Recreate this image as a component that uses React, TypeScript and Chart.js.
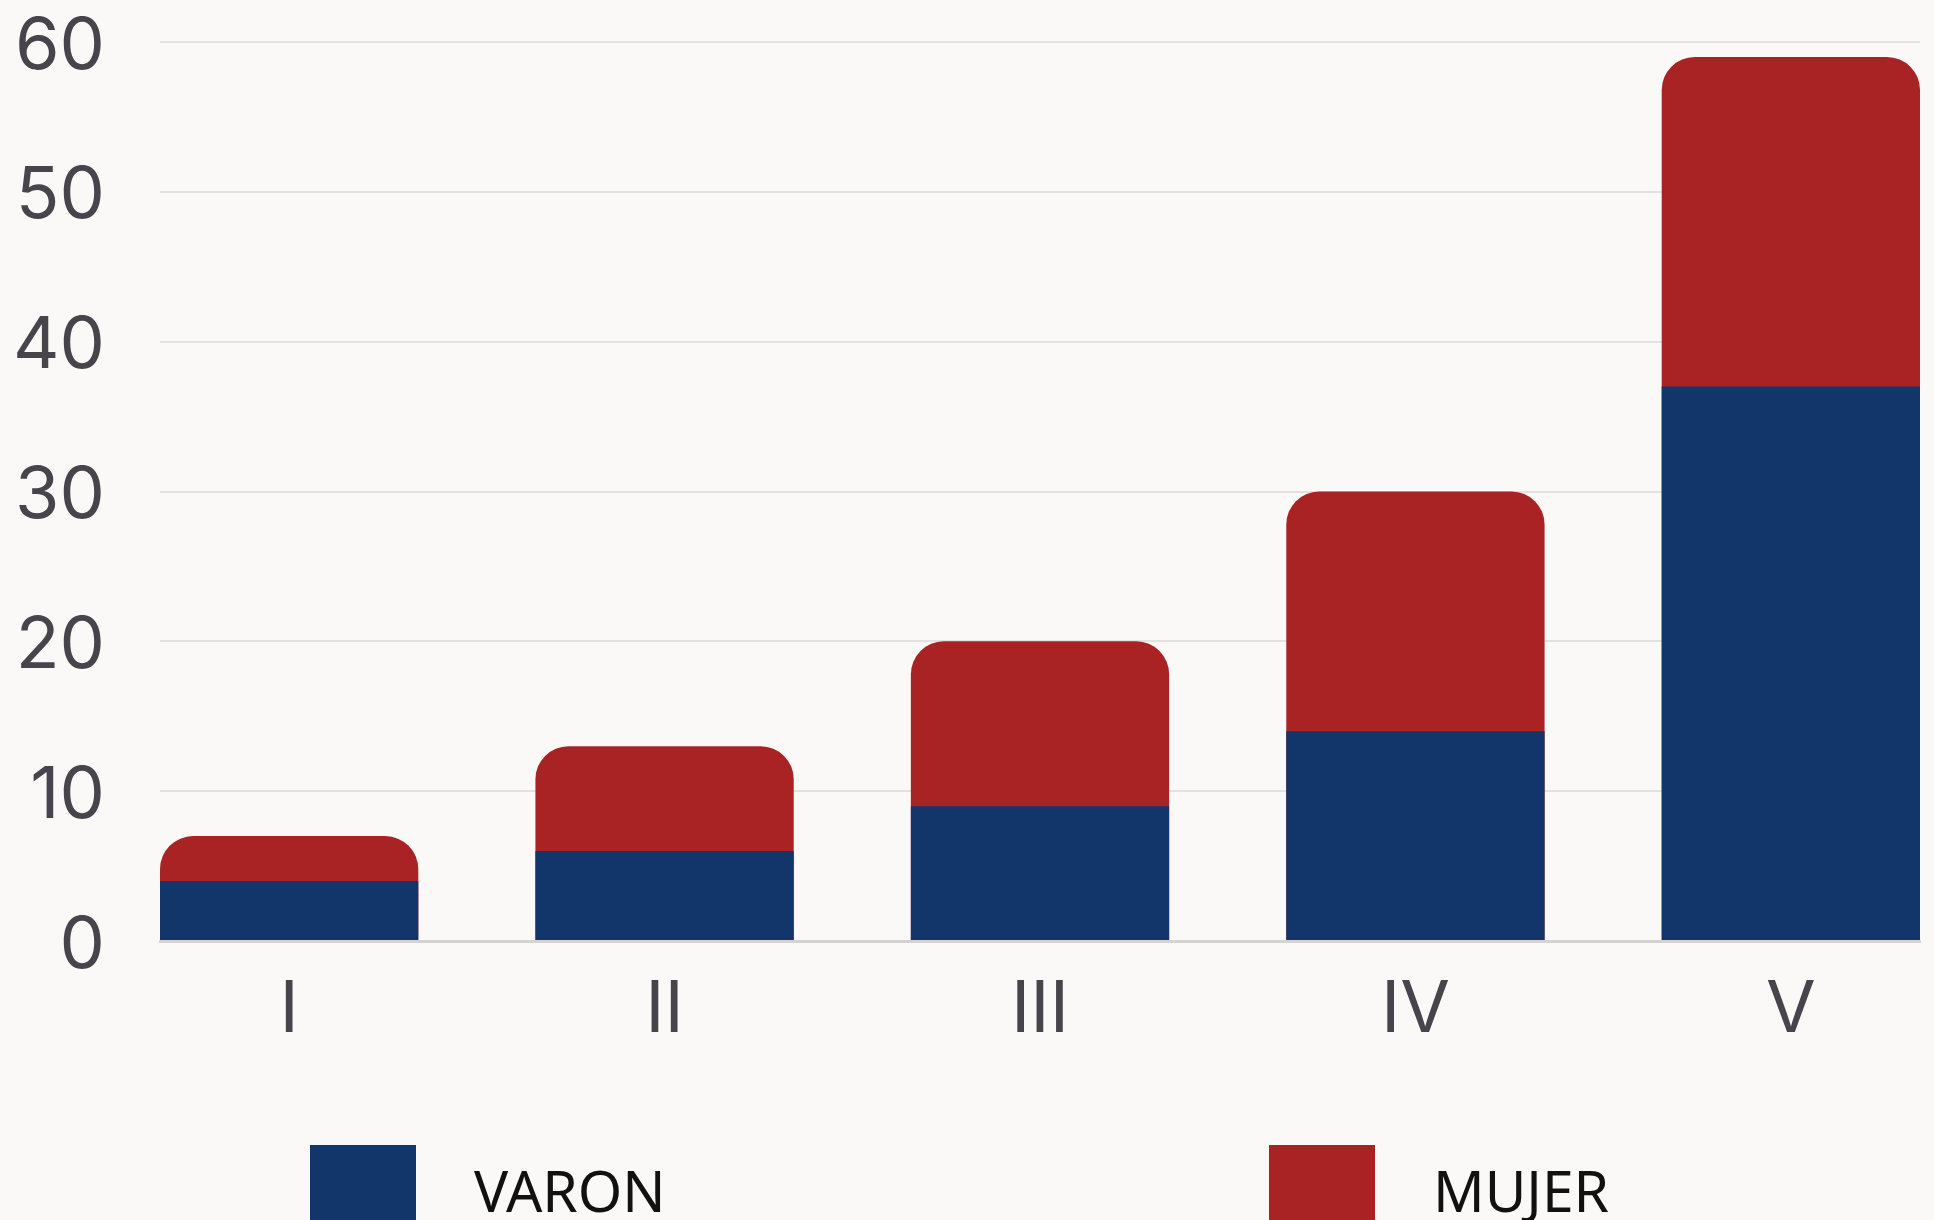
import React, { useEffect, useRef } from "react";
import { Chart, registerables } from "chart.js";

Chart.register(...registerables);

const categories = ["I", "II", "III", "IV", "V"];
const varonValues = [4, 6, 9, 14, 37];
const mujerValues = [3, 7, 11, 16, 22];
const seriesLabels = ["VARON", "MUJER"];
const seriesColors = ["#13366A", "#A92325"];
const yMin = 0;
const yMax = 60;
const yStep = 10;

const BG = "#FAF9F7";
const TICK_COLOR = "#47444C";

export default function App() {
  const ref = useRef<HTMLCanvasElement | null>(null);

  useEffect(() => {
    document.body.style.margin = "0";
    document.body.style.background = BG;
    if (!ref.current) return;

    const bgPlugin = {
      id: "bgFill",
      beforeDraw(chart: any) {
        const ctx = chart.ctx;
        ctx.save();
        ctx.fillStyle = BG;
        ctx.fillRect(0, 0, chart.width, chart.height);
        ctx.restore();
      },
    };

    // legend order follows the stacking order: VARON (bottom) first, MUJER second
    const legendPlugin = {
      id: "customLegend",
      afterDraw(chart: any) {
        const ctx = chart.ctx;
        const W = chart.width;
        seriesLabels.forEach((label, i) => {
          const x0 = W / 2 - 657 + i * 959;
          const y0 = 1145;
          ctx.save();
          ctx.fillStyle = seriesColors[i];
          ctx.fillRect(x0, y0, 106, 106);
          ctx.fillStyle = "#111111";
          ctx.font = "57px 'Noto Sans'";
          ctx.textBaseline = "alphabetic";
          ctx.textAlign = "left";
          ctx.fillText(label, x0 + 164, 1212);
          ctx.restore();
        });
      },
    };

    // The MUJER segment sits on top of VARON: draw it as a rounded bar
    // reaching the stack total, with the VARON bar painted over its base.
    const totals = varonValues.map((v, i) => v + mujerValues[i]);
    const toPoints = (vals: number[]) => vals.map((v, i) => ({ x: i, y: v }));

    const chart = new Chart(ref.current, {
      type: "bar",
      data: {
        datasets: [
          {
            label: seriesLabels[0],
            data: toPoints(varonValues),
            backgroundColor: seriesColors[0],
            borderWidth: 0,
            grouped: false,
            order: 0,
            barPercentage: 0.688,
            categoryPercentage: 1,
          },
          {
            label: seriesLabels[1],
            data: toPoints(totals),
            backgroundColor: seriesColors[1],
            borderWidth: 0,
            grouped: false,
            order: 1,
            borderRadius: { topLeft: 33, topRight: 33, bottomLeft: 0, bottomRight: 0 },
            borderSkipped: false,
            barPercentage: 0.688,
            categoryPercentage: 1,
          },
        ],
      } as any,
      options: {
        animation: false,
        responsive: true,
        maintainAspectRatio: false,
        layout: { padding: { top: 42, right: 14, left: 0, bottom: 0 } },
        plugins: {
          legend: { display: false },
          tooltip: { enabled: false },
        },
        scales: {
          x: {
            type: "linear",
            offset: false,
            min: -0.344,
            max: categories.length - 1 + 0.344,
            grid: { display: false, drawTicks: false, offset: false },
            border: { display: true, color: "#D4D3D2", width: 3 },
            afterBuildTicks(axis: any) {
              axis.ticks = categories.map((_, i) => ({ value: i }));
            },
            afterFit(axis: any) {
              axis.height = 279;
              axis.paddingLeft = 0;
              axis.paddingRight = 0;
            },
            ticks: {
              autoSkip: false,
              maxRotation: 0,
              padding: 26,
              color: TICK_COLOR,
              font: { family: "Inter", size: 72 },
              callback: (v: any) => categories[Math.round(Number(v))] ?? "",
            },
          },
          y: {
            min: yMin,
            max: yMax,
            grid: { color: "#E3E2E0", lineWidth: 2, drawTicks: false },
            border: { display: false },
            afterFit(axis: any) {
              axis.width = 160;
              axis.paddingTop = 0;
              axis.paddingBottom = 0;
            },
            ticks: {
              stepSize: yStep,
              padding: 55,
              labelOffset: 5,
              color: TICK_COLOR,
              font: { family: "Inter", size: 72 },
            },
          },
        },
      } as any,
      plugins: [bgPlugin, legendPlugin],
    });

    return () => chart.destroy();
  }, []);

  return (
    <div style={{ width: 1934, height: 1220, position: "relative" }}>
      <canvas ref={ref} />
    </div>
  );
}
